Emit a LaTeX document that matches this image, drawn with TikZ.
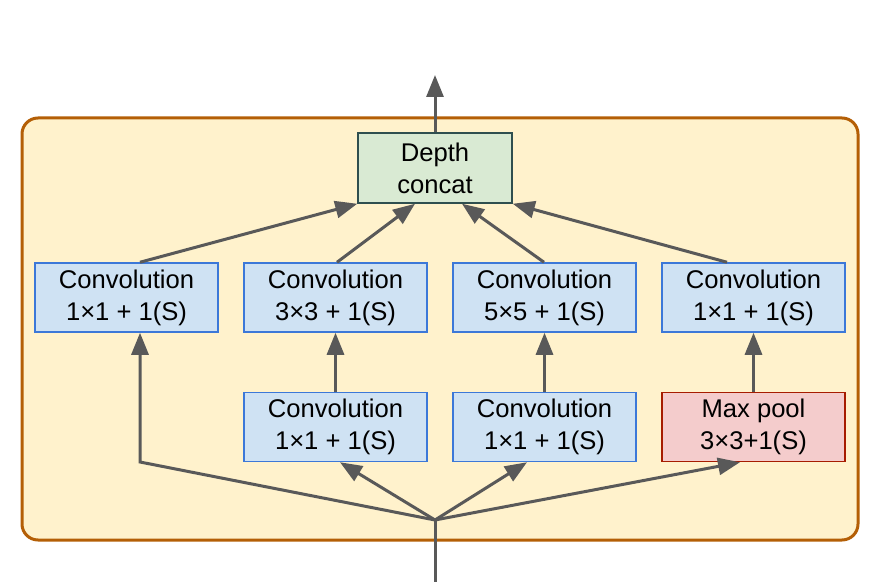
\documentclass[tikz,border=0pt]{standalone}
\usepackage{fontspec}
\setmainfont{Liberation Sans}
\usetikzlibrary{arrows.meta,calc}
\definecolor{bgfill}{HTML}{FFF2CC}
\definecolor{bgline}{HTML}{B45F06}
\definecolor{convfill}{HTML}{CFE2F3}
\definecolor{convline}{HTML}{3C78D8}
\definecolor{poolfill}{HTML}{F4CCCC}
\definecolor{poolline}{HTML}{A61C00}
\definecolor{catfill}{HTML}{D9EAD3}
\definecolor{catline}{HTML}{2F4F4F}
\definecolor{arr}{HTML}{595959}
\begin{document}
\begin{tikzpicture}[x=0.5pt,y=-0.5pt,
  boxbase/.style={draw, line width=0.75pt, minimum width=91.5pt, minimum height=34.5pt,
    inner sep=0pt, align=center, font=\fontsize{12.8}{16}\selectfont},
  convbox/.style={boxbase, fill=convfill, draw=convline},
  poolbox/.style={boxbase, fill=poolfill, draw=poolline},
  catbox/.style={boxbase, fill=catfill, draw=catline, minimum width=77pt, minimum height=35pt},
  link/.style={draw=arr, line width=1.5pt},
  arrowlink/.style={link, -{Triangle[length=11pt,width=8.5pt]}}
]
\useasboundingbox (0,0) rectangle (882,582);
\node[draw=bgline, fill=bgfill, line width=1.5pt, rounded corners=8pt,
  minimum width=418pt, minimum height=211pt, inner sep=0pt] (frame) at (440,329) {};

\node[catbox] (depth) at (435,168) {Depth\\concat};

\node[convbox] (c1) at (126.5,297.5) {Convolution\\1×1 + 1(S)};
\node[convbox] (c2) at (335.5,297.5) {Convolution\\3×3 + 1(S)};
\node[convbox] (c3) at (544.5,297.5) {Convolution\\5×5 + 1(S)};
\node[convbox] (c4) at (753.5,297.5) {Convolution\\1×1 + 1(S)};

\node[convbox] (r2) at (335.5,427) {Convolution\\1×1 + 1(S)};
\node[convbox] (r3) at (544.5,427) {Convolution\\1×1 + 1(S)};
\node[poolbox] (mp) at (753.5,427) {Max pool\\3×3+1(S)};

\coordinate (top) at (435,75);
\coordinate (junc) at (435,520);
\coordinate (inp) at (435,582);
\coordinate (corner) at (140,462);

% output
\draw[arrowlink] (depth.north) -- (top);
% input
\draw[link] (inp) -- (junc);
% branches from input
\draw[arrowlink] (junc) -- (corner) -- ($(c1.south)+(13.5,0)$);
\draw[arrowlink] (junc) -- ($(r2.south)+(4.5,0)$);
\draw[arrowlink] (junc) -- ($(r3.south)+(-17.5,0)$);
\draw[arrowlink] (junc) -- ($(mp.south)+(-13.5,0)$);
% vertical
\draw[arrowlink] (r2) -- (c2);
\draw[arrowlink] (r3) -- (c3);
\draw[arrowlink] (mp) -- (c4);
% to concat
\draw[arrowlink] ($(c1.north)+(13.5,0)$) -- (depth.south west);
\draw[arrowlink] ($(c2.north)+(1.5,0)$) -- ($(depth.south)+(-20,0)$);
\draw[arrowlink] ($(c3.north)+(-0.5,0)$) -- ($(depth.south)+(27,0)$);
\draw[arrowlink] ($(c4.north)+(-26.5,0)$) -- (depth.south east);
\end{tikzpicture}
\end{document}
